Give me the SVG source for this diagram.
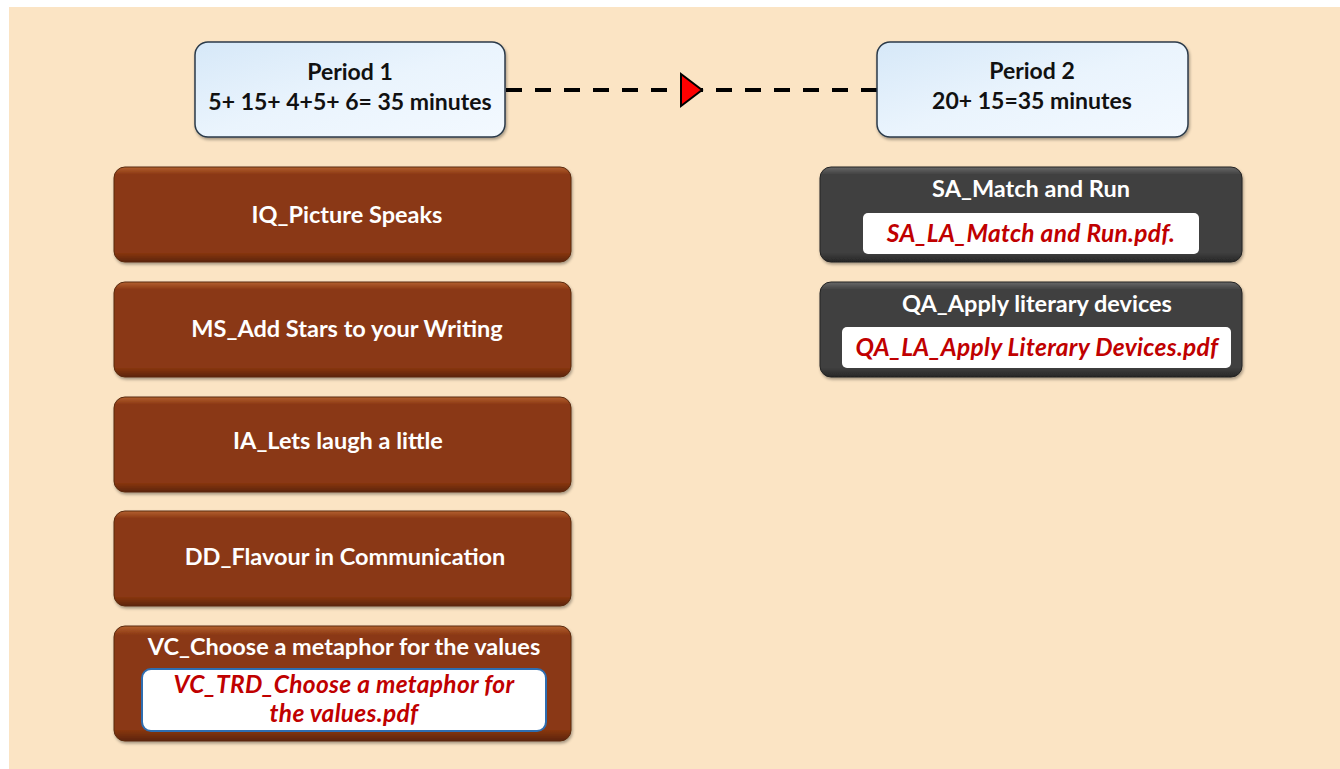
<svg xmlns="http://www.w3.org/2000/svg" width="1340" height="769" viewBox="0 0 1340 769">
  <defs>
    <linearGradient id="blueFill" x1="0" y1="0" x2="1" y2="1">
      <stop offset="0" stop-color="#d6e8f8"/>
      <stop offset="0.5" stop-color="#eaf4fd"/>
      <stop offset="1" stop-color="#f3f9ff"/>
    </linearGradient>
    <linearGradient id="brownEdge" x1="0" y1="0" x2="0" y2="1">
      <stop offset="0" stop-color="#b4612f"/>
      <stop offset="0.08" stop-color="#8a3712"/>
      <stop offset="0.9" stop-color="#8a3712"/>
      <stop offset="1" stop-color="#5c2408"/>
    </linearGradient>
    <linearGradient id="grayEdge" x1="0" y1="0" x2="0" y2="1">
      <stop offset="0" stop-color="#6a6a6a"/>
      <stop offset="0.08" stop-color="#404040"/>
      <stop offset="0.9" stop-color="#404040"/>
      <stop offset="1" stop-color="#262626"/>
    </linearGradient>
    <filter id="shadow" x="-5%" y="-10%" width="110%" height="125%">
      <feDropShadow dx="1" dy="2" stdDeviation="1.5" flood-color="#000" flood-opacity="0.35"/>
    </filter>
  </defs>
  <style>
    text { font-family: "Lato", "Open Sans", "Liberation Sans", sans-serif; font-weight: bold; text-anchor: middle; }
    .head { font-size: 23px; fill: #111; }
    .title { font-size: 23.5px; fill: #fff; }
    .file { font-size: 24.5px; fill: #c00000; font-style: italic; letter-spacing: 0.3px; }
    .period { fill: url(#blueFill); stroke: #2b3a4a; stroke-width: 1.5; filter: url(#shadow); }
    .brown { fill: url(#brownEdge); stroke: #5a2a10; stroke-width: 1; filter: url(#shadow); }
    .gray { fill: url(#grayEdge); stroke: #222; stroke-width: 1; filter: url(#shadow); }
    .inner { fill: #fff; }
    .innerBlue { fill: #fff; stroke: #2e6db0; stroke-width: 2; }
    .dash { stroke: #000; stroke-width: 4; stroke-dasharray: 16,13; }
  </style>

  <!-- page background -->
  <rect x="0" y="0" width="1340" height="769" fill="#ffffff"/>
  <rect x="9" y="7" width="1331" height="762" fill="#fbe4c4"/>

  <!-- connectors -->
  <g id="connectors">
    <line class="dash" x1="506" y1="90" x2="688" y2="90"/>
    <line class="dash" x1="877" y1="90" x2="700" y2="90"/>
    <path d="M681,74 L702,90 L681,106 Z" fill="#ff0000" stroke="#000" stroke-width="2"/>
  </g>

  <!-- period headers -->
  <g id="period1">
    <rect class="period" x="195" y="42" width="310" height="95" rx="13"/>
    <text class="head" x="350" y="80">Period 1</text>
    <text class="head" x="350" y="110">5+ 15+ 4+5+ 6= 35 minutes</text>
  </g>
  <g id="period2">
    <rect class="period" x="877" y="42" width="311" height="95" rx="13"/>
    <text class="head" x="1032" y="79">Period 2</text>
    <text class="head" x="1032" y="109">20+ 15=35 minutes</text>
  </g>

  <!-- period 1 activities -->
  <g id="iq">
    <rect class="brown" x="114" y="167" width="457" height="95" rx="11"/>
    <text class="title" x="347" y="223">IQ_Picture Speaks</text>
  </g>
  <g id="ms">
    <rect class="brown" x="114" y="282" width="457" height="95" rx="11"/>
    <text class="title" x="347" y="337">MS_Add Stars to your Writing</text>
  </g>
  <g id="ia">
    <rect class="brown" x="114" y="397" width="457" height="95" rx="11"/>
    <text class="title" x="338" y="449">IA_Lets laugh a little</text>
  </g>
  <g id="dd">
    <rect class="brown" x="114" y="511" width="457" height="95" rx="11"/>
    <text class="title" x="345" y="565">DD_Flavour in Communication</text>
  </g>
  <g id="vc">
    <rect class="brown" x="114" y="626" width="457" height="115" rx="11"/>
    <text class="title" x="344" y="655">VC_Choose a metaphor for the values</text>
    <rect class="innerBlue" x="142" y="669" width="404" height="62" rx="9"/>
    <text class="file" x="344" y="693">VC_TRD_Choose a metaphor for</text>
    <text class="file" x="344" y="722">the values.pdf</text>
  </g>

  <!-- period 2 activities -->
  <g id="sa">
    <rect class="gray" x="820" y="167" width="422" height="95" rx="11"/>
    <text class="title" x="1031" y="197">SA_Match and Run</text>
    <rect class="inner" x="863" y="213" width="336" height="41" rx="5"/>
    <text class="file" x="1031" y="242">SA_LA_Match and Run.pdf.</text>
  </g>
  <g id="qa">
    <rect class="gray" x="820" y="282" width="422" height="95" rx="11"/>
    <text class="title" x="1037" y="312">QA_Apply literary devices</text>
    <rect class="inner" x="842" y="327" width="389" height="41" rx="5"/>
    <text class="file" x="1037" y="356">QA_LA_Apply Literary Devices.pdf</text>
  </g>
</svg>
